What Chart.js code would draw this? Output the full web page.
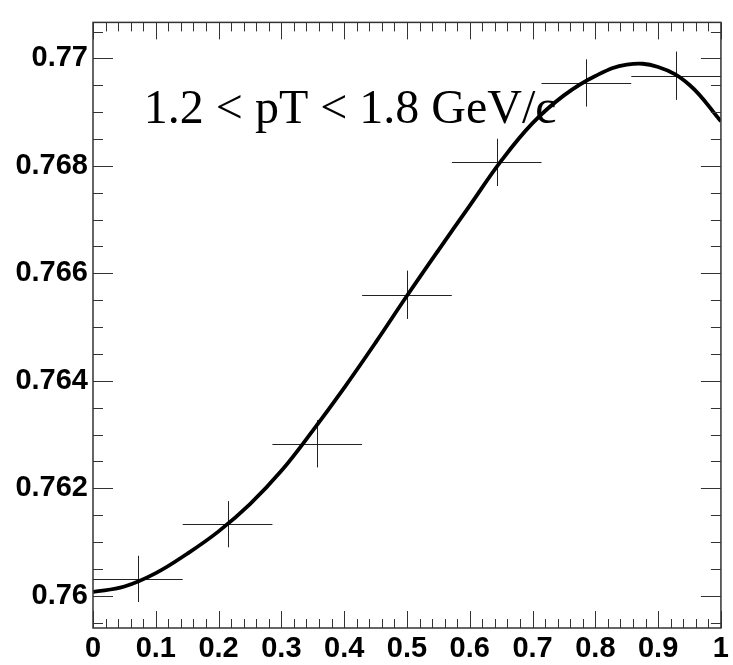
<!DOCTYPE html>
<html><head><meta charset="utf-8">
<script src="https://cdn.jsdelivr.net/npm/chart.js@4/dist/chart.umd.min.js"></script>
<style>html,body{margin:0;padding:0;background:#fff;}canvas{display:block;}</style>
</head><body>
<canvas id="c" width="733" height="665"></canvas>
<script>
// ---- data ----
const binCenters    = [0.0714, 0.2143, 0.3571, 0.5, 0.6429, 0.7857, 0.9286];
const binHalfWidths = [0.0714, 0.0714, 0.0714, 0.0714, 0.0714, 0.0714, 0.0714];
const pointValues   = [0.760314, 0.761331, 0.762828, 0.765601, 0.768065, 0.769543, 0.769678];
const pointErrors   = [0.00043, 0.00043, 0.00044, 0.00045, 0.00044, 0.00044, 0.00045];

const fitX = [0, 0.05, 0.1, 0.15, 0.2, 0.25, 0.3, 0.35, 0.4, 0.45, 0.5,
              0.55, 0.6, 0.65, 0.7, 0.75, 0.8, 0.85, 0.9, 0.95, 1];
const fitY = [0.760070, 0.760172, 0.760421, 0.760782, 0.761198, 0.761706, 0.762325,
              0.763074, 0.763869, 0.764710, 0.765582, 0.766429, 0.767261, 0.768092,
              0.768795, 0.769312, 0.769673, 0.769885, 0.769839, 0.769506, 0.768828];

const xTickValues = [0, 0.1, 0.2, 0.3, 0.4, 0.5, 0.6, 0.7, 0.8, 0.9, 1];
const xTickLabels = ["0", "0.1", "0.2", "0.3", "0.4", "0.5", "0.6", "0.7", "0.8", "0.9", "1"];
const yTickValues = [0.76, 0.762, 0.764, 0.766, 0.768, 0.77];
const yTickLabels = ["0.76", "0.762", "0.764", "0.766", "0.768", "0.77"];
const xRange = [0, 1];
const yRange = [0.7594, 0.77067];
const annotationText = "1.2 < pT < 1.8 GeV/c";
const annotationPos = {x: 0.081, y: 0.7688};

// ---- drawing ----
const fitPoints = fitX.map((x, i) => ({x: x, y: fitY[i]}));
const measPoints = binCenters.map((x, i) => ({x: x, y: pointValues[i]}));

const rootStyle = {
  id: 'rootStyle',
  beforeDatasetsDraw(chart) {
    const ctx = chart.ctx, xs = chart.scales.x, ys = chart.scales.y;
    ctx.save();
    ctx.fillStyle = '#000';
    ctx.font = '48px "Liberation Serif", "Times New Roman", serif';
    ctx.textBaseline = 'alphabetic';
    ctx.textAlign = 'left';
    ctx.fillText(annotationText, xs.getPixelForValue(annotationPos.x), ys.getPixelForValue(annotationPos.y));
    ctx.strokeStyle = '#222';
    ctx.lineWidth = 1;
    binCenters.forEach((xc, i) => {
      const px = Math.round(xs.getPixelForValue(xc)) + 0.5;
      const py = Math.round(ys.getPixelForValue(pointValues[i])) + 0.5;
      const x1 = xs.getPixelForValue(xc - binHalfWidths[i]);
      const x2 = xs.getPixelForValue(xc + binHalfWidths[i]);
      const y1 = ys.getPixelForValue(pointValues[i] - pointErrors[i]);
      const y2 = ys.getPixelForValue(pointValues[i] + pointErrors[i]);
      ctx.beginPath();
      ctx.moveTo(x1, py); ctx.lineTo(x2, py);
      ctx.moveTo(px, y1); ctx.lineTo(px, y2);
      ctx.stroke();
    });
    ctx.restore();
  },
  afterDraw(chart) {
    const ctx = chart.ctx, a = chart.chartArea, xs = chart.scales.x, ys = chart.scales.y;
    ctx.save();
    ctx.strokeStyle = '#333';
    ctx.lineWidth = 1;
    ctx.beginPath();
    for (let k = 0; k <= 50; k++) {
      const v = xRange[0] + k * 0.02;
      const px = Math.round(xs.getPixelForValue(v)) + 0.5;
      const len = (k % 5 === 0) ? 17 : 9;
      ctx.moveTo(px, a.bottom); ctx.lineTo(px, a.bottom - len);
      ctx.moveTo(px, a.top); ctx.lineTo(px, a.top + len);
    }
    for (let k = -1; k <= 21; k++) {
      const v = 0.76 + k * 0.0005;
      if (v < yRange[0] || v > yRange[1]) continue;
      const py = Math.round(ys.getPixelForValue(v)) + 0.5;
      const len = (k % 4 === 0) ? 20 : 10;
      ctx.moveTo(a.left, py); ctx.lineTo(a.left + len, py);
      ctx.moveTo(a.right, py); ctx.lineTo(a.right - len, py);
    }
    ctx.stroke();
    ctx.lineWidth = 1.5;
    ctx.strokeRect(a.left, a.top, a.right - a.left, a.bottom - a.top);
    ctx.restore();
  }
};

const labelFont = {family: '"Liberation Sans", Arial, Helvetica, sans-serif', size: 29, weight: 'bold'};

new Chart(document.getElementById('c'), {
  type: 'scatter',
  data: {
    datasets: [
      {
        type: 'line',
        data: fitPoints,
        borderColor: '#000',
        borderWidth: 3.8,
        pointRadius: 0,
        tension: 0.4,
        fill: false,
        order: 1
      },
      {
        type: 'scatter',
        data: measPoints,
        pointRadius: 0,
        showLine: false,
        order: 2
      }
    ]
  },
  options: {
    responsive: false,
    animation: false,
    devicePixelRatio: 1,
    layout: {padding: {top: 18, right: 11, left: 0, bottom: 0}},
    plugins: {legend: {display: false}, tooltip: {enabled: false}},
    scales: {
      x: {
        type: 'linear', min: xRange[0], max: xRange[1],
        grid: {display: false, drawTicks: false},
        border: {display: false},
        afterBuildTicks: s => { s.ticks = xTickValues.map(v => ({value: v})); },
        afterFit: s => { s.height = 37; },
        ticks: {
          color: '#000', font: labelFont, padding: 4, maxRotation: 0, autoSkip: false,
          callback: (v, i) => xTickLabels[i]
        }
      },
      y: {
        type: 'linear', min: yRange[0], max: yRange[1],
        grid: {display: false, drawTicks: false},
        border: {display: false},
        afterBuildTicks: s => { s.ticks = yTickValues.map(v => ({value: v})); },
        afterFit: s => { s.width = 93; },
        ticks: {
          color: '#000', font: labelFont, padding: 5, autoSkip: false,
          callback: (v, i) => yTickLabels[i]
        }
      }
    }
  },
  plugins: [rootStyle]
});
</script>
</body></html>
